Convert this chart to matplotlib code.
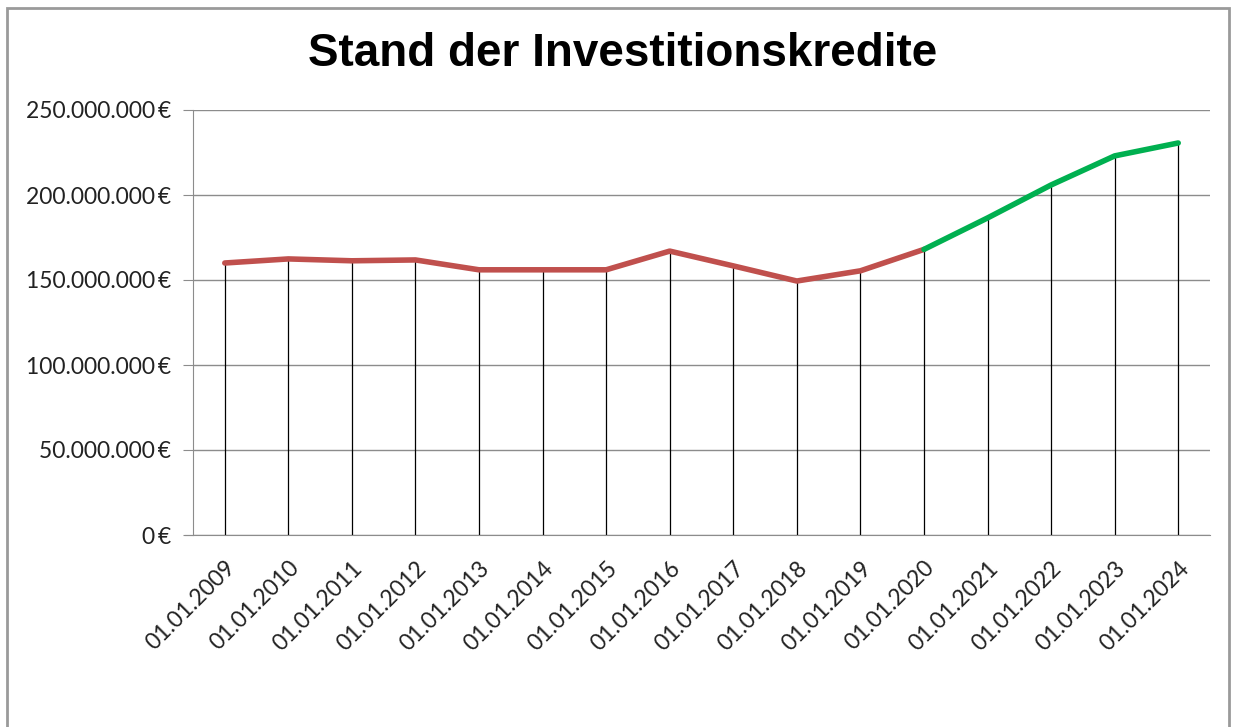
import matplotlib.pyplot as plt
import matplotlib.ticker as mticker
from matplotlib.patches import Rectangle
import numpy as np

labels = ['01.01.2009', '01.01.2010', '01.01.2011', '01.01.2012', '01.01.2013',
          '01.01.2014', '01.01.2015', '01.01.2016', '01.01.2017', '01.01.2018',
          '01.01.2019', '01.01.2020', '01.01.2021', '01.01.2022', '01.01.2023',
          '01.01.2024']
# Stand in Euro
ist = [160.0e6, 162.4e6, 161.3e6, 161.8e6, 156.0e6, 156.0e6, 156.0e6, 167.0e6,
       158.3e6, 149.4e6, 155.4e6, 168.0e6]
plan = [168.0e6, 186.5e6, 205.9e6, 223.0e6, 230.6e6]

werte = ist + plan[1:]
x = np.arange(len(labels))

fig = plt.figure(figsize=(12.38, 7.27), dpi=100)
ax = fig.add_axes([193/1238, 1-535/727, (1210-193)/1238, (535-110)/727])

# Rahmen um das Diagramm
fig.patches.append(Rectangle((7/1238, -0.05), (1229-7)/1238, 1.05-8/727,
                             transform=fig.transFigure, fill=False,
                             edgecolor='#9a9a9a', linewidth=2))

ax.vlines(x, 0, werte, colors='black', linewidth=0.9, zorder=2)
ax.plot(x[:len(ist)], ist, color='#C0504D', linewidth=4,
        solid_capstyle='round', solid_joinstyle='round', zorder=3)
ax.plot(x[len(ist)-1:], plan, color='#00B050', linewidth=4,
        solid_capstyle='round', solid_joinstyle='round', zorder=3)

ax.set_xlim(-0.5, len(labels)-0.5)
ax.set_ylim(0, 250e6)
ax.set_yticks(np.arange(0, 250e6+1, 50e6))
ax.yaxis.set_major_formatter(mticker.FuncFormatter(
    lambda v, p: '{:,.0f}\u2009€'.format(v).replace(',', '.')))
ax.grid(axis='y', color='#8c8c8c', linewidth=1)
ax.set_axisbelow(True)

for s in ['top', 'right']:
    ax.spines[s].set_visible(False)
ax.spines['left'].set_color('#8c8c8c')
ax.spines['bottom'].set_color('#8c8c8c')
ax.spines['bottom'].set_bounds(-0.5 - 8/63.56, len(labels)-0.5)

ax.tick_params(axis='y', length=7, color='#8c8c8c', labelsize=16.5, pad=9)
ax.tick_params(axis='x', length=0, labelsize=16.5, pad=16)
ax.set_xticks(x)
ax.set_xticklabels(labels, rotation=45, ha='right', rotation_mode='anchor')
for t in ax.get_xticklabels() + ax.get_yticklabels():
    t.set_family(['Lato', 'DejaVu Sans'])
    t.set_color('#222222')

fig.text(623/1238, 1-54/727, 'Stand der Investitionskredite', ha='center', va='center',
         fontsize=33, fontweight='bold', family='Liberation Sans')

fig.savefig('out.png', dpi=100)
